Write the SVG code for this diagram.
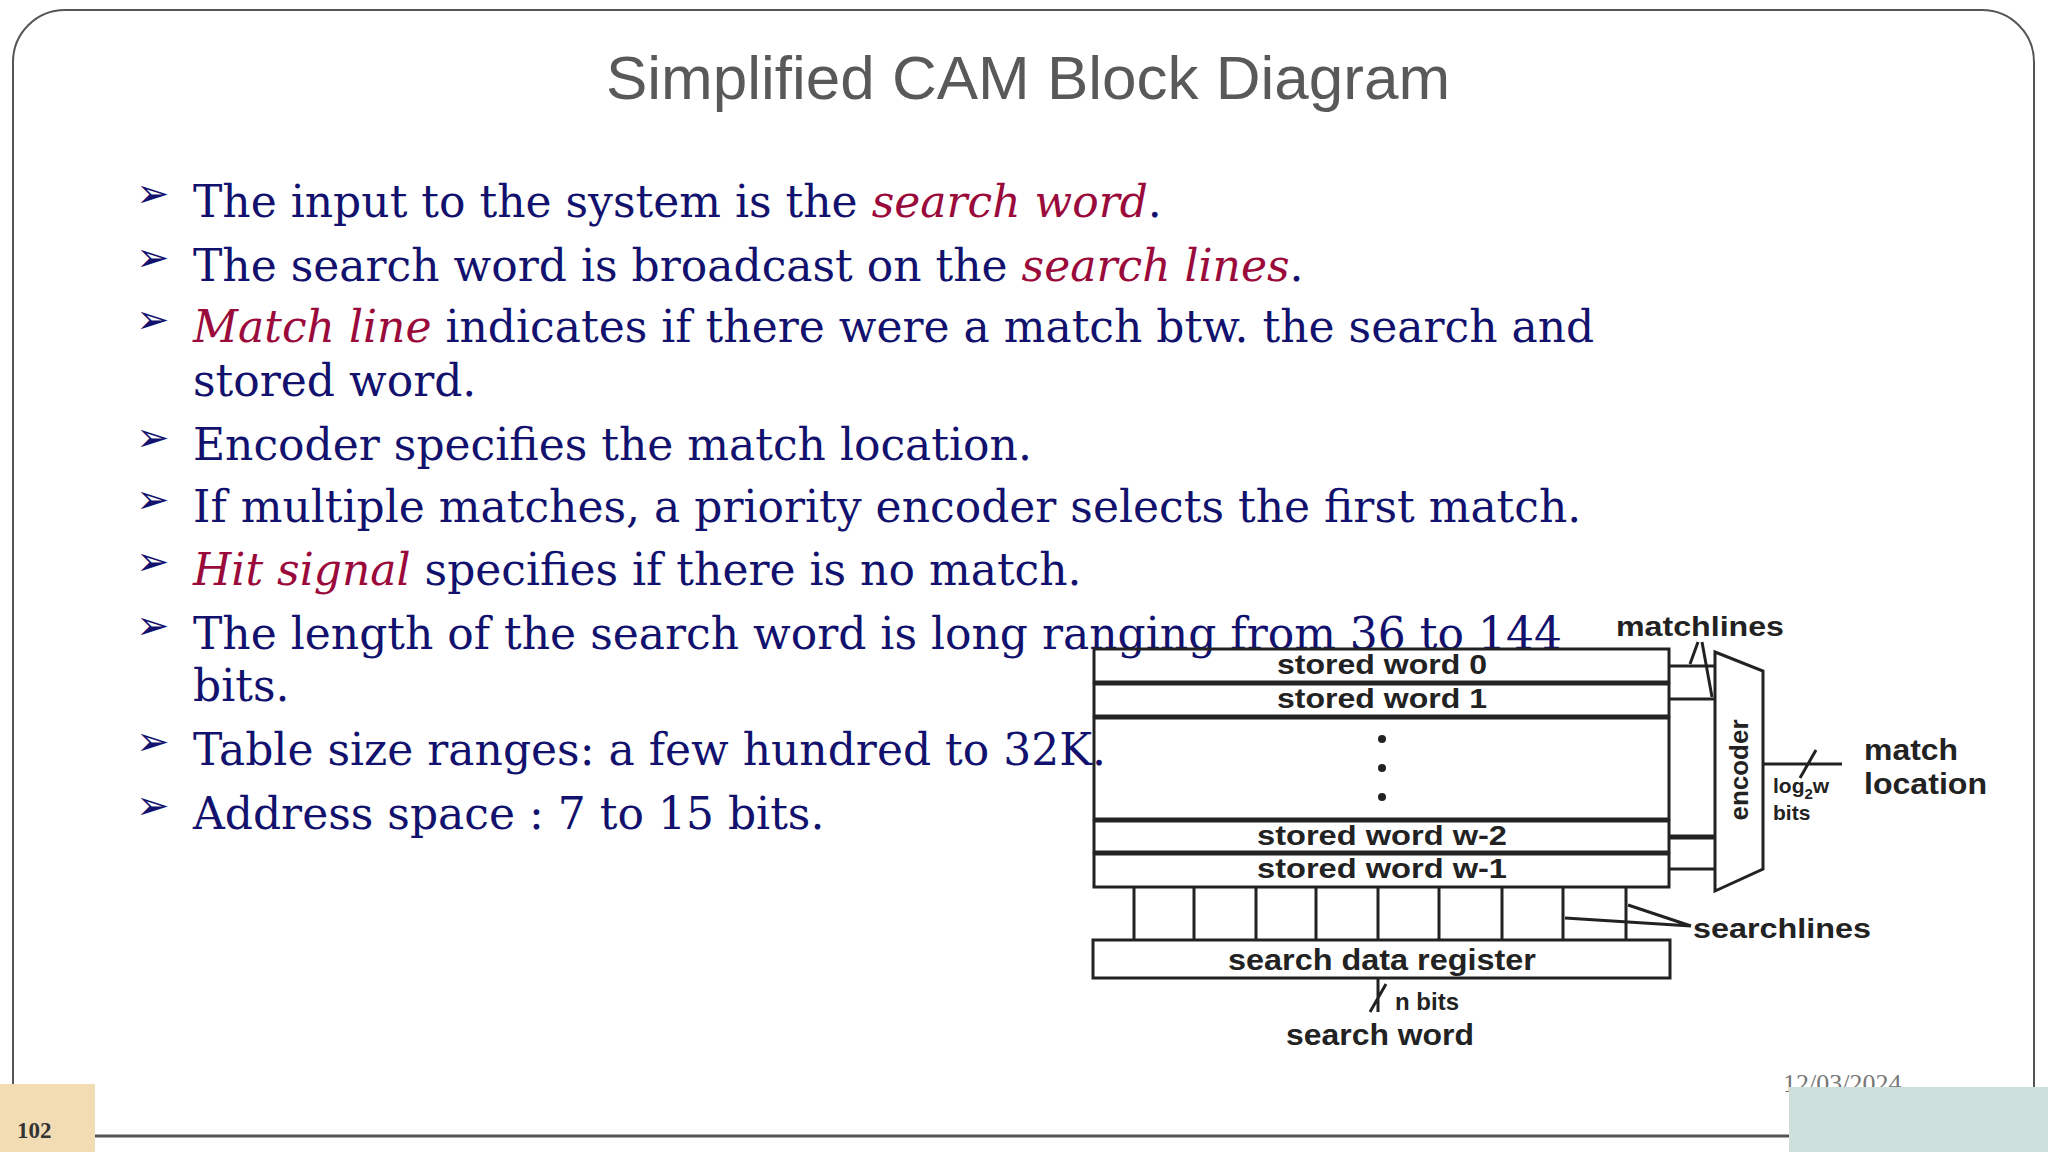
<svg xmlns="http://www.w3.org/2000/svg" width="2048" height="1152" viewBox="0 0 2048 1152">
<style>
.b{font-family:"DejaVu Serif","Liberation Serif",serif;font-size:44px;fill:#12126e}
.i{font-style:italic;fill:#9a0a3a}
.ar{font-family:"DejaVu Sans",sans-serif;font-size:40px;fill:#12126e}
.d{font-family:"Liberation Sans",Arial,sans-serif;font-weight:bold;fill:#222}
.ln{stroke:#222;stroke-width:3;fill:none}
</style>
<rect width="2048" height="1152" fill="#fff"/>
<path d="M13,1136 V62 A52,52 0 0 1 65,10 H1982 A52,52 0 0 1 2034,62 V1136" fill="none" stroke="#555" stroke-width="2"/>
<line x1="13" y1="1136" x2="2034" y2="1136" stroke="#555" stroke-width="3"/>
<text x="1028" y="99" text-anchor="middle" font-family="Liberation Sans,Arial,sans-serif" font-size="62" fill="#595959">Simplified CAM Block Diagram</text>
<g id="bullets">
<g class="ar"><text x="136" y="207">➢</text><text x="136" y="271">➢</text><text x="136" y="333">➢</text><text x="136" y="451">➢</text><text x="136" y="513">➢</text><text x="136" y="575">➢</text><text x="136" y="639">➢</text><text x="136" y="755">➢</text><text x="136" y="819">➢</text></g>
<text class="b" x="193" y="217">The input to the system is the <tspan class="i">search word</tspan>.</text>
<text class="b" x="193" y="281">The search word is broadcast on the <tspan class="i">search lines</tspan>.</text>
<text class="b" x="193" y="342"><tspan class="i">Match line</tspan> indicates if there were a match btw. the search and</text>
<text class="b" x="193" y="396">stored word.</text>
<text class="b" x="193" y="460">Encoder specifies the match location.</text>
<text class="b" x="193" y="522">If multiple matches, a priority encoder selects the first match.</text>
<text class="b" x="193" y="585"><tspan class="i">Hit signal</tspan> specifies if there is no match.</text>
<text class="b" x="193" y="649">The length of the search word is long ranging from 36 to 144</text>
<text class="b" x="193" y="701">bits.</text>
<text class="b" x="193" y="765">Table size ranges: a few hundred to 32K.</text>
<text class="b" x="193" y="829">Address space : 7 to 15 bits.</text>
</g>
<g id="rows">
<rect x="1094" y="649" width="575" height="33" fill="#fff" class="ln"/>
<rect x="1094" y="684" width="575" height="32" fill="#fff" class="ln"/>
<rect x="1094" y="718" width="575" height="101" fill="#fff" class="ln"/>
<rect x="1094" y="821" width="575" height="31" fill="#a8a8a8" class="ln"/>
<rect x="1094" y="854" width="575" height="33" fill="#fff" class="ln"/>
<text class="d" x="1382" y="674" font-size="28" text-anchor="middle" textLength="210" lengthAdjust="spacingAndGlyphs">stored word 0</text>
<text class="d" x="1382" y="708" font-size="28" text-anchor="middle" textLength="210" lengthAdjust="spacingAndGlyphs">stored word 1</text>
<text class="d" x="1382" y="845" font-size="28" text-anchor="middle" textLength="250" lengthAdjust="spacingAndGlyphs">stored word w-2</text>
<text class="d" x="1382" y="878" font-size="28" text-anchor="middle" textLength="250" lengthAdjust="spacingAndGlyphs">stored word w-1</text>
<circle cx="1382" cy="739" r="4" fill="#222"/><circle cx="1382" cy="768" r="4" fill="#222"/><circle cx="1382" cy="797" r="4" fill="#222"/>
</g>
<g id="encoder">
<polygon points="1715,652 1763,671 1763,869 1715,891" fill="#fff" class="ln"/>
<text class="d" transform="translate(1748,770) rotate(-90)" font-size="26" font-weight="normal" text-anchor="middle">encoder</text>
</g>
<g id="register">
<rect x="1093" y="940" width="577" height="38" fill="#fff" class="ln"/>
<text class="d" x="1382" y="970" font-size="29" text-anchor="middle" textLength="308" lengthAdjust="spacingAndGlyphs">search data register</text>
</g>
<g id="connectors" class="ln">
<path d="M1669,666 H1715 M1669,699 H1715 M1669,869 H1715"/>
<path d="M1669,837 H1715" stroke-width="5"/>
<path d="M1698,642 L1690,664 M1702,642 L1712,697"/>
<path d="M1134,887 V940 M1194,887 V940 M1256,887 V940 M1316,887 V940 M1378,887 V940 M1439,887 V940 M1502,887 V940 M1563,887 V940 M1626,887 V940"/>
<path d="M1691,926 L1628,905 M1691,926 L1565,918"/>
<path d="M1763,764 H1842 M1800,778 L1816,750"/>
<path d="M1378,978 V1012 M1370,1012 L1386,984"/>
</g>
<g id="labels" class="d">
<text x="1700" y="636" font-size="28" text-anchor="middle" textLength="168" lengthAdjust="spacingAndGlyphs">matchlines</text>
<text x="1693" y="938" font-size="28" textLength="178" lengthAdjust="spacingAndGlyphs">searchlines</text>
<text x="1864" y="760" font-size="30" textLength="94" lengthAdjust="spacingAndGlyphs">match</text>
<text x="1864" y="794" font-size="30" textLength="123" lengthAdjust="spacingAndGlyphs">location</text>
<text x="1773" y="793" font-size="21">log<tspan font-size="15" dy="6">2</tspan><tspan dy="-6">w</tspan></text>
<text x="1773" y="820" font-size="21">bits</text>
<text x="1395" y="1010" font-size="24">n bits</text>
<text x="1380" y="1045" font-size="29" text-anchor="middle" textLength="188" lengthAdjust="spacingAndGlyphs">search word</text>
</g>
<text x="1783" y="1092" font-family="Liberation Serif,serif" font-size="26" fill="#777">12/03/2024</text>
<rect x="0" y="1084" width="95" height="68" fill="#f2dcb4"/>
<text x="17" y="1138" font-family="Liberation Serif,serif" font-weight="bold" font-size="23" fill="#333">102</text>
<rect x="1789" y="1087" width="259" height="65" fill="#cde0dc"/>
</svg>
